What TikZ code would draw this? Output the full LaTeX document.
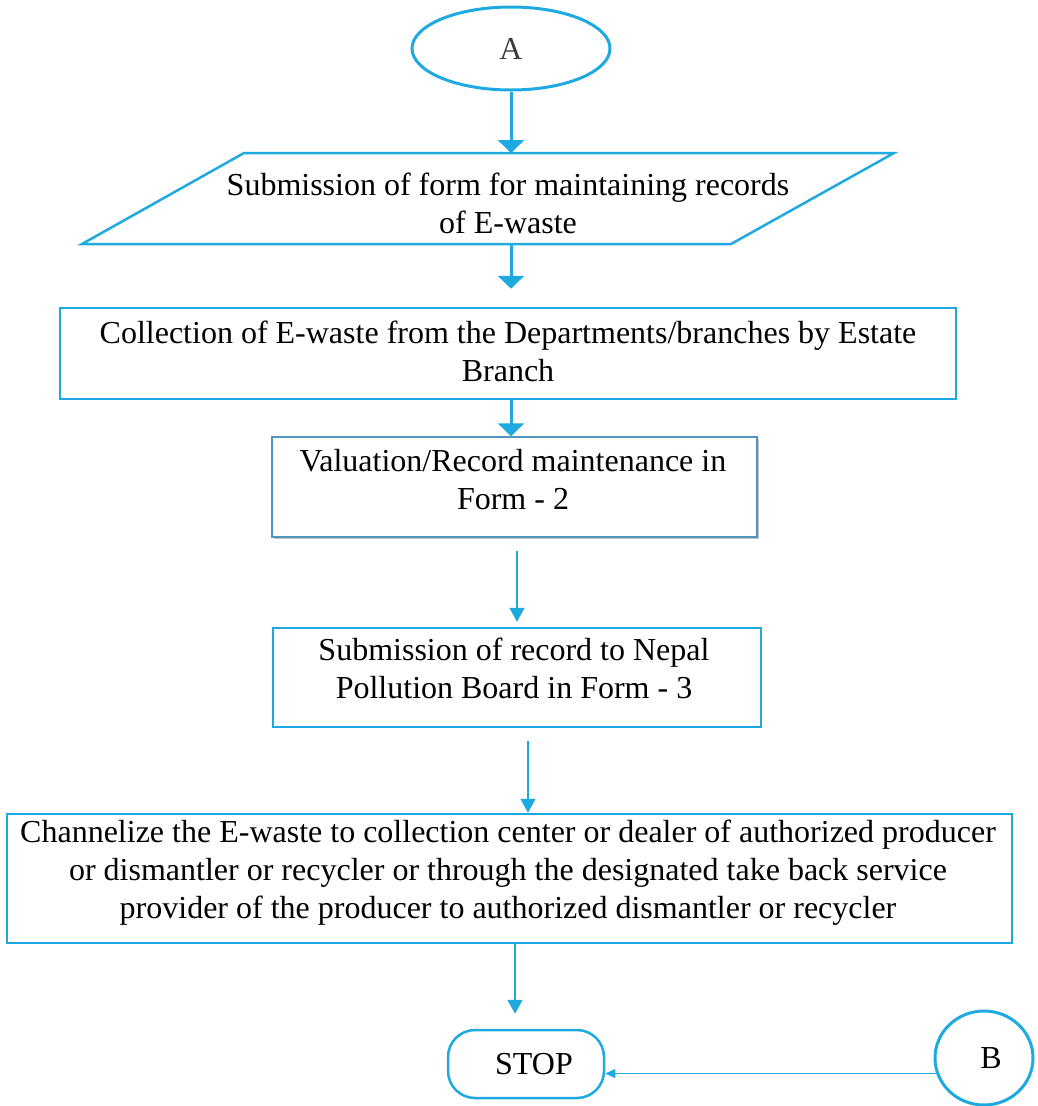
\documentclass[tikz,border=0pt]{standalone}
\usepackage{fontspec}
\setmainfont{Liberation Serif}
\usetikzlibrary{arrows.meta,shapes.geometric,shadows}
\definecolor{fblue}{RGB}{31,169,225}
\definecolor{vborder}{RGB}{80,150,190}
\definecolor{agrey}{RGB}{60,60,60}
\begin{document}
\begin{tikzpicture}[x=1pt,y=-1pt,
  txt/.style={font=\fontsize{32}{38}\selectfont, align=center, inner sep=0pt},
  boxstyle/.style={draw=fblue, line width=2.5pt, rectangle, inner sep=0pt},
  bigarrow/.style={draw=fblue, line width=3pt, -{Triangle[length=13pt,width=26pt]}},
  thinarrow/.style={draw=fblue, line width=1.5pt, -{Triangle[length=14pt,width=15pt]}},
  hairarrow/.style={draw=fblue, line width=1pt, -{Triangle[length=10pt,width=9pt]}},
]
\useasboundingbox (0,0) rectangle (1037,1106);

% start connector
\node[ellipse, draw=fblue, line width=3pt, minimum width=198pt, minimum height=83pt,
      inner sep=0pt, font=\fontsize{32}{38}\selectfont, text=agrey] (A) at (511,48.5) {A};

% parallelogram
\draw[fblue, line width=2.5pt] (244,153) -- (894,153) -- (731,244) -- (82,244) -- cycle;
\coordinate (paraTop) at (511,153);
\coordinate (paraBot) at (511,244);
\node[txt] (paraT) at (508,203.5) {Submission of form for maintaining records\\of E-waste};

% collection box
\node[boxstyle, minimum width=896pt, minimum height=91pt] (collect) at (508,353.5) {};
\node[txt] (collectT) at (508,351) {Collection of E-waste from the Departments/branches by Estate\\Branch};

% valuation box
\node[draw=vborder, line width=1.5pt, fill=white, inner sep=0pt,
      drop shadow={shadow xshift=1.5pt, shadow yshift=-1.5pt, opacity=0.45},
      minimum width=485pt, minimum height=100pt] (valu) at (514.5,487) {};
\node[txt] (valuT) at (513,480) {Valuation/Record maintenance in\\Form - 2};

% submission of record box
\node[boxstyle, minimum width=488pt, minimum height=99pt] (submit) at (517,677.5) {};
\node[txt] (submitT) at (514,668.5) {Submission of record to Nepal\\Pollution Board in Form - 3};

% channelize box
\node[boxstyle, minimum width=1005pt, minimum height=129pt] (channel) at (509.5,878.5) {};
\node[txt] (channelT) at (508,873) {Channelize the E-waste to collection center or dealer of authorized producer\\or dismantler or recycler or through the designated take back service\\provider of the producer to authorized dismantler or recycler};

% stop terminal
\node[draw=fblue, line width=2.5pt, rounded corners=27pt, inner sep=0pt,
      minimum width=156pt, minimum height=68pt, font=\fontsize{32}{38}\selectfont] (stop) at (526,1064) {\hspace*{16pt}STOP};

% connector B
\node[ellipse, draw=fblue, line width=3pt, inner sep=0pt, minimum width=98pt, minimum height=94pt,
      font=\fontsize{32}{38}\selectfont] (B) at (984,1058) {\hspace*{14pt}B};

% connectors
\draw[bigarrow] (A.south) -- (paraTop);
\draw[bigarrow, shorten >=18pt] (paraBot) -- (paraBot |- collect.north);
\draw[bigarrow] (paraTop |- collect.south) -- (paraTop |- valu.north);
\draw[thinarrow, shorten <=13pt, shorten >=5pt] (submit.north |- valu.south) -- (submit.north);
\draw[thinarrow, shorten <=13pt] ([xshift=11pt]submit.south) -- ([xshift=11pt]submit.south |- channel.north);
\draw[thinarrow, shorten >=15pt] ([xshift=-11pt]stop.north |- channel.south) -- ([xshift=-11pt]stop.north);
\draw[hairarrow] (B.198) -- (B.198 -| stop.east);
\end{tikzpicture}
\end{document}
